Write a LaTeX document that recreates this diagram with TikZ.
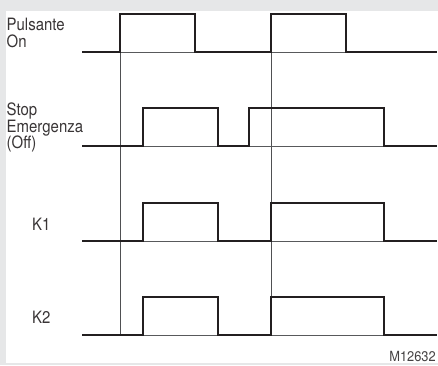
\documentclass[tikz,border=0pt]{standalone}
\usepackage{fontspec}
\setmainfont{TeX Gyre Heros}[FakeStretch=0.88]
\newfontfamily\codefont{TeX Gyre Heros}[FakeStretch=0.92]
\definecolor{bandgrey}{HTML}{E6E7E8}
\definecolor{inkdark}{HTML}{231F20}
\definecolor{inkthin}{HTML}{58595B}
\begin{document}
\begin{tikzpicture}[x=1pt,y=-1pt,
  sig/.style={line width=2pt,draw=inkdark,line join=miter},
  base/.style={line width=0.8pt,draw=inkthin},
  marker/.style={line width=0.8pt,draw=inkthin!90!black},
  lbl/.style={inner sep=0pt,anchor=base west,font=\fontsize{17}{17}\selectfont,text=inkdark!90}]
\useasboundingbox (0,0) rectangle (438,365);
\fill[bandgrey] (0,0) rectangle (438,365);
\fill[white] (6,11) rectangle (438,362.5);
% time markers
\coordinate (t1top) at (120,14);
\coordinate (t1bot) at (120,335);
\coordinate (t2top) at (271,14);
\coordinate (t2bot) at (271,335);
\draw[marker] (t1top) -- (t1bot);
\draw[marker] (t2top) -- (t2bot);
% thin baselines under pulses
\draw[base] (120,52) -- (195,52) (271,52) -- (346,52);
\draw[base] (143,146) -- (218,146) (249,146) -- (384,146);
\draw[base] (143,241) -- (218,241) (271,241) -- (384,241);
\draw[base] (143,335) -- (218,335) (271,335) -- (384,335);
% signals
\draw[sig] (82,52) -- (120,52) -- (120,14) -- (195,14) -- (195,52) -- (271,52) -- (271,14) -- (346,14) -- (346,52) -- (437,52);
\draw[sig] (82,146) -- (143,146) -- (143,108) -- (218,108) -- (218,146) -- (249,146) -- (249,108) -- (384,108) -- (384,146) -- (437,146);
\draw[sig] (82,241) -- (143,241) -- (143,203) -- (218,203) -- (218,241) -- (271,241) -- (271,203) -- (384,203) -- (384,241) -- (437,241);
\draw[sig] (82,335) -- (143,335) -- (143,297) -- (218,297) -- (218,335) -- (271,335) -- (271,297) -- (384,297) -- (384,335) -- (437,335);
% labels
\node[lbl] (pulsA) at (6.5,30.7) {Pulsante};
\node[lbl] (pulsB) at (6.5,47.7) {On};
\node[lbl] (stopA) at (6.5,115.7) {Stop};
\node[lbl] (stopB) at (6.5,132) {Emergenza};
\node[lbl] (stopC) at (6.5,148.3) {(Off)};
\node[lbl] (kone) at (32,230) {K1};
\node[lbl] (ktwo) at (32,323) {K2};
\node[inner sep=0pt,anchor=base east,font=\codefont\fontsize{14}{14}\selectfont,text=inkdark!85] (code) at (436,361.7) {M12632};
\end{tikzpicture}
\end{document}
